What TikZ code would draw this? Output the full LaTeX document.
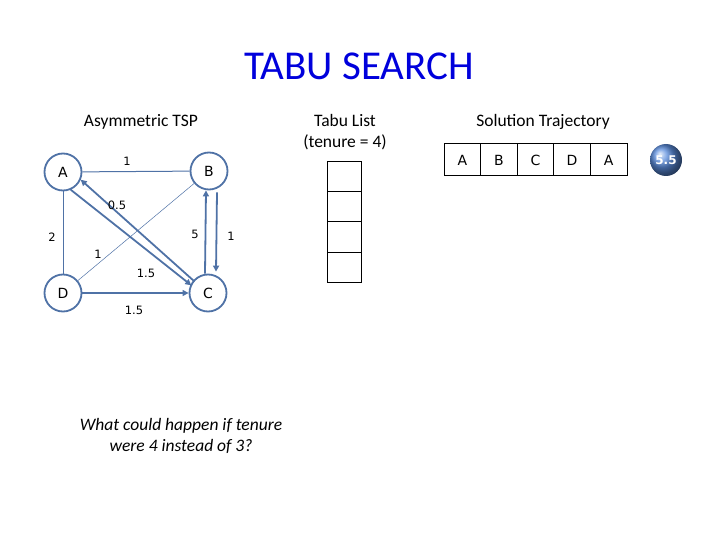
\documentclass[tikz,border=0pt]{standalone}
\usepackage{fontspec}
\setmainfont{Carlito}
\newfontfamily\gfont{DejaVu Sans}
\usetikzlibrary{arrows.meta,shadings,calc}
\definecolor{eb}{RGB}{79,114,166}
\definecolor{tb}{RGB}{0,0,220}
\definecolor{ballc}{RGB}{90,140,220}
\tikzset{
 vert/.style={circle,draw=eb,line width=1.8pt,minimum size=37pt,inner sep=0pt,font=\gfont\fontsize{14}{14}\selectfont},
 edge/.style={draw=eb,line width=1pt},
 arr/.style={draw=eb,line width=1.8pt,-{Triangle[length=6pt,width=6pt]}},
 wl/.style={font=\gfont\fontsize{11.5}{12}\selectfont},
 cell/.style={draw,line width=1pt,minimum width=36.6pt,minimum height=32pt,inner sep=0pt,font=\gfont\fontsize{14}{14}\selectfont},
 tcell/.style={draw,line width=1pt,minimum width=34pt,minimum height=30pt,inner sep=0pt},
 hd/.style={font=\fontsize{17.5}{21}\selectfont,align=center}
}
\begin{document}
\begin{tikzpicture}[x=1pt,y=-1pt]
\useasboundingbox (0,0) rectangle (720,540);
\node[font=\fontsize{41}{44}\selectfont,text=tb] (title) at (359,66) {TABU SEARCH};
\node[hd] (h1) at (141,122) {Asymmetric TSP};
\node[hd] (h2) at (345,132) {Tabu List\\(tenure = 4)};
\node[hd] (h3) at (543,122) {Solution Trajectory};
\node[vert] (A) at (63,172) {A};
\node[vert] (B) at (209,171) {B};
\node[vert] (C) at (208,293) {C};
\node[vert] (D) at (63,293) {D};
\draw[edge] (A) -- (B);
\draw[edge] (A) -- (D);
\draw[edge,line width=0.5pt] (D) -- (B);
\draw[arr,line width=1.3pt] (D) -- (C);
\draw[arr] ($(C.north west)+(0,2)$) -- ($(A.south east)+(4,-6)$);
\draw[arr] ($(A.south east)+(-6,4)$) -- ($(C.north west)+(-3,6)$);
\draw[arr] ([xshift=-3pt]C.north) -- ([xshift=-3pt]B.south);
\draw[arr] ([xshift=8pt,yshift=-2pt]B.south) -- ([xshift=8pt,yshift=2pt]C.north);
\node[wl] (l1) at (127,161) {1};
\node[wl] (l2) at (117,205) {0.5};
\node[wl] (l3) at (52,237) {2};
\node[wl] (l4) at (98,254) {1};
\node[wl] (l5) at (195,234) {5};
\node[wl] (l6) at (231,236) {1};
\node[wl] (l7) at (146,273) {1.5};
\node[wl] (l8) at (134,310) {1.5};
\foreach \i in {0,...,3}{\node[tcell] (t\i) at (344,{177+30*\i}) {};}
\foreach [count=\i] \s in {A,B,C,D,A}{\node[cell] (s\i) at ({444+36.6*(\i-0.5)},160) {\s};}
\node[circle,ball color=ballc,minimum size=32pt,inner sep=0pt,text=white,font=\gfont\bfseries\fontsize{12}{12}\selectfont] (cost) at (666,160) {5.5};
\node[font=\itshape\fontsize{17.5}{21}\selectfont,align=center] (q) at (181,436) {What could happen if tenure\\were 4 instead of 3?};
\end{tikzpicture}
\end{document}
